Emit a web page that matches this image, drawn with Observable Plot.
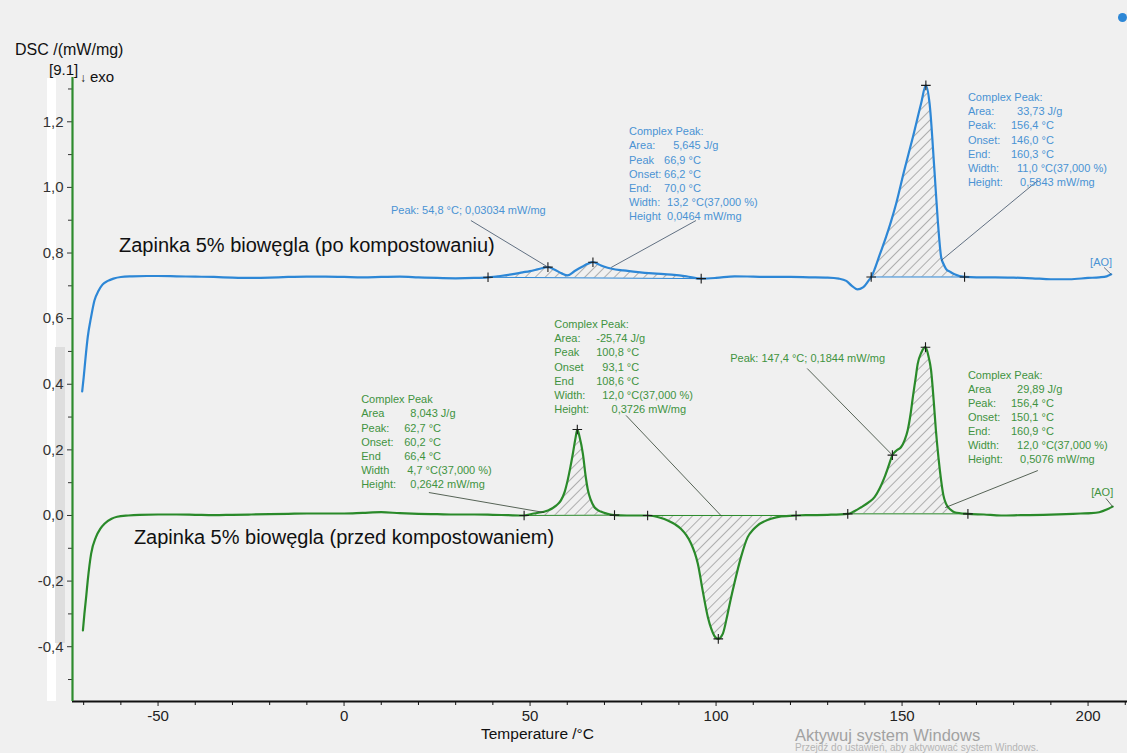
<!DOCTYPE html>
<html><head><meta charset="utf-8">
<script src="https://cdn.jsdelivr.net/npm/d3@7"></script>
<script src="https://cdn.jsdelivr.net/npm/@observablehq/plot@0.6"></script>
<style>
body{margin:0;background:#f0f0f0;font-family:Arial,"Liberation Sans",sans-serif;}
#wrap{position:relative;width:1127px;height:753px;overflow:hidden;background:#f0f0f0}
.abs{position:absolute;white-space:nowrap;line-height:1.2}
</style></head><body>
<div id="wrap">
<div class="abs" style="left:47px;top:78px;width:9px;height:623px;background:#fff"></div>
<div class="abs" style="left:55px;top:347px;width:10px;height:296px;background:#dedede"></div>
<div class="abs" style="left:1118px;top:13px;width:9px;height:9px;border-radius:50%;background:#2d87d6"></div>
<div id="chart" class="abs" style="left:0;top:0"></div>
<div class="abs" style="left:15px;top:40px;font-size:16px;color:#111">DSC /(mW/mg)</div>
<div class="abs" style="left:49px;top:61px;font-size:15px;color:#111">[9.1]</div>
<div class="abs" style="left:80px;top:71px;font-size:12px;color:#111">↓</div>
<div class="abs" style="left:90px;top:68px;font-size:15px;color:#111">exo</div>
<div class="abs" style="left:795px;top:727px;font-size:16.5px;line-height:1;color:#a2a2a2">Aktywuj system Windows</div>
<div class="abs" style="left:795px;top:743px;font-size:10px;line-height:1;color:#b4b4b4">Przejdź do ustawień, aby aktywować system Windows.</div>
</div>
<script>
// ---- data: DSC curves (Temperature °C, DSC mW/mg) ----
const blueT = [-70.4,-70.0,-69.5,-68.9,-68.0,-67.1,-66.0,-65.0,-63.5,-62,-60,-57,-53,-50,-45,-40,-35,-30,-25,-20,-15,-10,-5,0,5,10,15,20,25,30,35,38.7,42,45,48,50,52,54.8,56.5,58.5,60.1,62,64,65.5,66.9,68.5,70,72,75,79,83,88,92,96,100,105,110,115,120,125,130,133,135,136.5,138,139.5,141,141.7,142.6,144,145.7,147,148.4,150.6,152.9,155.1,156.4,157.4,158.7,159.6,160.5,161.2,161.8,163,164.1,166.8,170,175,180,185,190,195,200,203,205,206.2];
const blueV = [0.378,0.42,0.48,0.544,0.605,0.655,0.685,0.703,0.715,0.722,0.727,0.729,0.730,0.730,0.729,0.728,0.727,0.725,0.724,0.725,0.727,0.728,0.728,0.727,0.726,0.727,0.728,0.726,0.724,0.723,0.724,0.726,0.730,0.735,0.741,0.745,0.750,0.757,0.750,0.738,0.732,0.745,0.758,0.767,0.772,0.765,0.758,0.752,0.747,0.742,0.738,0.734,0.729,0.722,0.724,0.729,0.728,0.727,0.727,0.726,0.725,0.722,0.715,0.700,0.689,0.695,0.716,0.727,0.750,0.795,0.849,0.895,0.950,1.052,1.153,1.255,1.311,1.255,1.052,0.899,0.788,0.765,0.752,0.742,0.735,0.727,0.726,0.726,0.725,0.723,0.720,0.720,0.724,0.726,0.729,0.735];
const greenT = [-70.2,-69.8,-69.3,-68.9,-68.0,-66.7,-65.5,-64.4,-62.5,-61,-58,-55,-50,-45,-40,-35,-30,-25,-20,-15,-10,-5,0,5,10,15,20,25,30,35,40,44,48.4,51,54.8,57,58.3,59.3,60.1,60.8,61.5,62.2,62.7,63.3,64.2,65.0,65.5,66.3,67.3,69,70.9,72.7,76,81.6,85,87,89,90.6,92,93.3,94.3,95.1,96.4,97.8,98.7,99.5,100.6,101.8,103.1,104.0,104.9,106.7,108.5,110,111.2,113,114.8,117.5,121.5,125,130,135.4,137,139,141,142.6,144,145.3,146.5,147.4,148.5,149.7,150.7,151.5,152.3,152.9,153.6,154.2,155.2,156.3,157.1,157.8,158.5,159.1,159.8,160.5,161.1,161.8,163,164.1,167.7,172,176.6,182,188,194,198,200.8,203,205,206.6];
const greenV = [-0.350,-0.300,-0.245,-0.198,-0.117,-0.066,-0.040,-0.025,-0.010,-0.004,0.000,0.002,0.003,0.003,0.002,0.001,0.002,0.003,0.004,0.005,0.006,0.006,0.006,0.008,0.010,0.007,0.005,0.004,0.003,0.003,0.002,0.001,0.000,0.006,0.015,0.030,0.046,0.072,0.107,0.145,0.188,0.235,0.262,0.240,0.188,0.115,0.080,0.048,0.025,0.012,0.005,0.001,0.000,0.000,-0.007,-0.015,-0.027,-0.041,-0.060,-0.086,-0.115,-0.147,-0.229,-0.310,-0.345,-0.366,-0.376,-0.361,-0.300,-0.252,-0.208,-0.127,-0.066,-0.043,-0.030,-0.018,-0.010,-0.003,0.000,0.001,0.002,0.005,0.012,0.025,0.040,0.056,0.083,0.117,0.155,0.184,0.198,0.208,0.230,0.259,0.310,0.361,0.415,0.462,0.497,0.513,0.485,0.442,0.350,0.259,0.175,0.107,0.062,0.036,0.018,0.010,0.005,0.003,0.000,0.001,0.002,0.004,0.006,0.007,0.010,0.018,0.027];

const seriesNames = ["Zapinka 5% biowęgla (po kompostowaniu)", "Zapinka 5% biowęgla (przed kompostowaniem)"];
const seriesLabelX = [-60.5, -56.5];
const seriesLabelY = [0.823, -0.067];

// integration limits and peak temperatures
const blueRanges = [[38.7, 96], [141.7, 166.8]];
const greenRanges = [[48.4, 72.7], [81.6, 121.5], [135.4, 167.7]];
const bluePeaks = [54.8, 66.9, 156.4];
const greenPeaks = [62.7, 100.6, 147.4, 156.3];

// axis ticks
const xTicks = [-50, 0, 50, 100, 150, 200];
const xTickLabels = ["-50", "0", "50", "100", "150", "200"];
const xMinor = [-70,-60,-40,-30,-20,-10,10,20,30,40,60,70,80,90,110,120,130,140,160,170,180,190,210];
const yTicks = [-0.4, -0.2, 0, 0.2, 0.4, 0.6, 0.8, 1.0, 1.2];
const yTickLabels = ["-0,4", "-0,2", "0,0", "0,2", "0,4", "0,6", "0,8", "1,0", "1,2"];
const yMinor = [-0.5,-0.3,-0.1,0.1,0.3,0.5,0.7,0.9,1.1,1.3];
const xTitle = "Temperature /°C";

// annotation blocks (NETZSCH style)
const blockLabels = [
  ["Complex Peak:", "Area:", "Peak", "Onset:", "End:", "Width:", "Height"],
  ["Complex Peak:", "Area:", "Peak:", "Onset:", "End:", "Width:", "Height:"],
  ["Complex Peak", "Area", "Peak:", "Onset:", "End", "Width", "Height:"],
  ["Complex Peak:", "Area:", "Peak", "Onset", "End", "Width:", "Height:"],
  ["Complex Peak:", "Area", "Peak:", "Onset:", "End:", "Width:", "Height:"]
];
const NB = "\u00a0";
const blockValues = [
  ["", NB+NB+NB+"5,645 J/g", "66,9 °C", "66,2 °C", "70,0 °C", NB+"13,2 °C(37,000 %)", NB+"0,0464 mW/mg"],
  ["", NB+NB+"33,73 J/g", "156,4 °C", "146,0 °C", "160,3 °C", NB+NB+"11,0 °C(37,000 %)", NB+NB+NB+"0,5843 mW/mg"],
  ["", NB+NB+"8,043 J/g", "62,7 °C", "60,2 °C", "66,4 °C", NB+"4,7 °C(37,000 %)", NB+NB+"0,2642 mW/mg"],
  ["", "-25,74 J/g", "100,8 °C", NB+NB+"93,1 °C", "108,6 °C", NB+NB+"12,0 °C(37,000 %)", NB+NB+NB+NB+NB+"0,3726 mW/mg"],
  ["", NB+NB+"29,89 J/g", "156,4 °C", "150,1 °C", "160,9 °C", NB+NB+"12,0 °C(37,000 %)", NB+NB+NB+"0,5076 mW/mg"]
];
const blockSeries = [0, 0, 1, 1, 1];
const blockX = [76.6, 167.7, 4.6, 56.5, 167.7];
const blockY = [1.189, 1.293, 0.372, 0.601, 0.448];
const blockValueDx = [35, 43, 43, 42, 43];

const noteText = ["Peak: 54,8 °C; 0,03034 mW/mg", "Peak: 147,4 °C; 0,1844 mW/mg", "[AO]", "[AO]"];
const noteSeries = [0, 1, 0, 1];
const noteX = [12.6, 103.8, 203.5, 203.8];
const noteY = [0.930, 0.479, 0.772, 0.071];
const noteAnchor = ["start", "start", "middle", "middle"];

const leaderX1 = [34.1, 94.6, 186.5, 204.3, 22.8, 75.8, 124.5, 186.5, 204.8];
const leaderY1 = [0.899, 0.899, 1.021, 0.756, 0.070, 0.305, 0.448, 0.137, 0.052];
const leaderX2 = [54.8, 71.8, 160.5, 206.2, 53.8, 101.3, 147.4, 161.6, 206.6];
const leaderY2 = [0.757, 0.756, 0.777, 0.735, 0.009, 0.0, 0.184, 0.024, 0.027];
const leaderSeries = [0, 0, 0, 0, 1, 1, 1, 1, 1];

// ---- styles ----
const lineColors = ["#2d87d6", "#2a8a2a"];
const textColors = ["#4a93d4", "#3f933f"];
const leaderColors = ["#3c4f66", "#2f3f2f"];
const font = "Arial, 'Liberation Sans', sans-serif";

const blue = blueT.map((t, i) => ({t, v: blueV[i]}));
const green = greenT.map((t, i) => ({t, v: greenV[i]}));
const series = [blue, green];
const valAt = (s, t) => s.find(d => d.t === t).v;
function region(s, [a, b]) {
  const va = valAt(s, a), vb = valAt(s, b);
  return s.filter(d => d.t >= a && d.t <= b).map(d => ({t: d.t, v: d.v, base: va + (vb - va) * (d.t - a) / (b - a)}));
}
const regions = [...blueRanges.map(r => ({s: 0, r})), ...greenRanges.map(r => ({s: 1, r}))];
const markers = [
  ...blueRanges.flat().map(t => ({t, v: valAt(blue, t)})),
  ...bluePeaks.map(t => ({t, v: valAt(blue, t)})),
  ...greenRanges.flat().map(t => ({t, v: valAt(green, t)})),
  ...greenPeaks.map(t => ({t, v: valAt(green, t)}))
];

const marks = [];
regions.forEach(({s, r}) => {
  const d = region(series[s], r);
  marks.push(Plot.areaY(d, {x: "t", y1: "base", y2: "v", fill: "url(#hatch)", curve: "monotone-x"}));
  marks.push(Plot.line([d[0], d[d.length - 1]], {x: "t", y: "base", stroke: lineColors[s], strokeWidth: 1}));
});
series.forEach((s, i) => marks.push(Plot.line(s, {x: "t", y: "v", stroke: lineColors[i], strokeWidth: 2.2, curve: "monotone-x"})));
marks.push(Plot.dot(markers, {x: "t", y: "v", symbol: "plus", r: 3.2, stroke: "#1a1a1a", strokeWidth: 1.1}));
marks.push(Plot.link(leaderX1.map((_, i) => i), {
  x1: i => leaderX1[i], y1: i => leaderY1[i], x2: i => leaderX2[i], y2: i => leaderY2[i],
  stroke: i => leaderColors[leaderSeries[i]], strokeWidth: 0.8
}));
blockLabels.forEach((lab, i) => {
  const c = textColors[blockSeries[i]];
  marks.push(Plot.text([i], {x: () => blockX[i], y: () => blockY[i], text: () => lab.join("\n"), fill: c, fontSize: 11, lineHeight: 1.28, textAnchor: "start", lineAnchor: "top"}));
  marks.push(Plot.text([i], {x: () => blockX[i], y: () => blockY[i], text: () => blockValues[i].join("\n"), fill: c, fontSize: 11, lineHeight: 1.28, textAnchor: "start", lineAnchor: "top", dx: blockValueDx[i]}));
});
noteText.forEach((t, i) => {
  marks.push(Plot.text([i], {x: () => noteX[i], y: () => noteY[i], text: () => t, fill: textColors[noteSeries[i]], fontSize: 11, textAnchor: noteAnchor[i]}));
});
seriesNames.forEach((n, i) => marks.push(Plot.text([i], {x: () => seriesLabelX[i], y: () => seriesLabelY[i], text: () => n, fill: "#111", fontSize: 20, textAnchor: "start"})));
marks.push(Plot.axisX({anchor: "bottom", ticks: xMinor, tickSize: 4, tickFormat: () => "", stroke: "#111", label: null}));
marks.push(Plot.axisX({anchor: "bottom", ticks: xTicks, tickSize: 5, tickPadding: 4, tickFormat: d => xTickLabels[xTicks.indexOf(d)], fontSize: 15, color: "#222", label: null}));
marks.push(Plot.axisY({anchor: "left", ticks: yMinor, tickSize: 4, tickFormat: () => "", stroke: "#333", label: null}));
marks.push(Plot.axisY({anchor: "left", ticks: yTicks, tickSize: 5, tickPadding: 4, tickFormat: d => yTickLabels[yTicks.indexOf(d)], fontSize: 15, color: "#333", label: null}));
marks.push(Plot.ruleY([-0.567], {stroke: "#111", strokeWidth: 2}));
marks.push(Plot.ruleX([-73], {stroke: "#2e8b2e", strokeWidth: 2.2}));
marks.push(Plot.text([xTitle], {x: () => 52, frameAnchor: "bottom", dy: 37, text: d => d, fontSize: 15.5, fill: "#111"}));

const chart = Plot.plot({
  width: 1127, height: 753,
  marginLeft: 72, marginRight: 0, marginTop: 77, marginBottom: 52,
  x: {domain: [-73, 210.6], label: null},
  y: {domain: [-0.567, 1.335], label: null},
  style: {background: "transparent", fontFamily: font, overflow: "visible"},
  marks
});
const ns = "http://www.w3.org/2000/svg";
const defs = document.createElementNS(ns, "defs");
defs.innerHTML = '<pattern id="hatch" patternUnits="userSpaceOnUse" width="7" height="7" patternTransform="rotate(45)"><line x1="0" y1="0" x2="0" y2="7" stroke="#4a4a4a" stroke-width="0.8"/></pattern>';
chart.insertBefore(defs, chart.firstChild);
document.getElementById("chart").appendChild(chart);
</script>
</body></html>
